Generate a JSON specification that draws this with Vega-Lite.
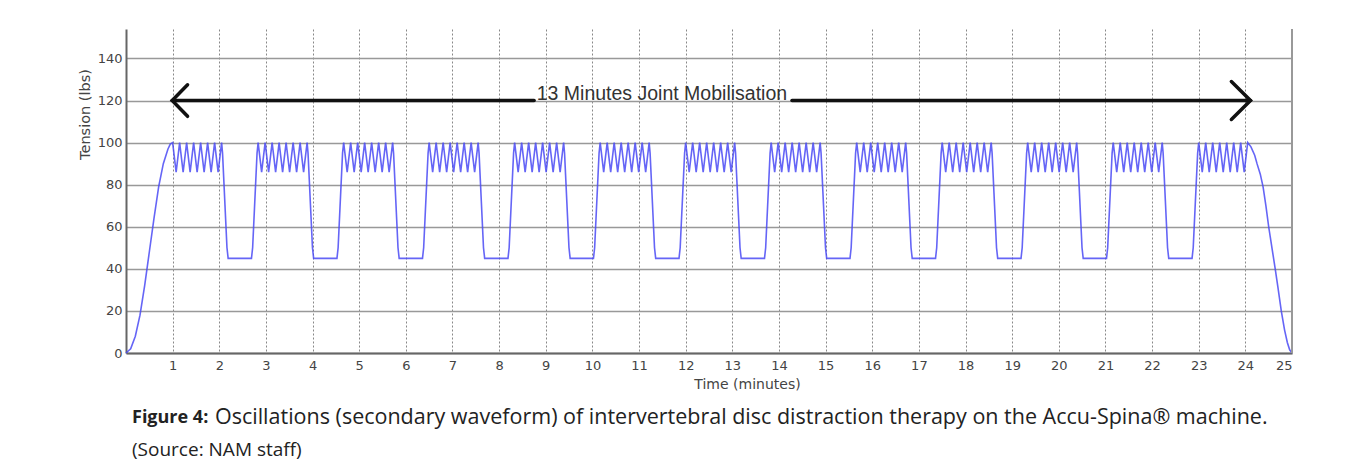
{
  "$schema": "https://vega.github.io/schema/vega-lite/v6.json",
  "padding": {"left": 77, "top": 28, "right": 0, "bottom": 0},
  "background": "white",
  "config": {"view": {"stroke": null}},
  "spacing": 11,
  "vconcat": [
    {
      "width": 1166,
      "height": 324,
      "layer": [
        {
          "data": {"values": [
            {"t":0,"v":0},{"t":0.1,"v":2},{"t":0.2,"v":8},{"t":0.3,"v":18},{"t":0.4,"v":32},{"t":0.5,"v":48},{"t":0.6,"v":64},{"t":0.7,"v":79},{"t":0.8,"v":90},{"t":0.9,"v":97},{"t":0.95,"v":99.3},
            {"t":1,"v":100},{"t":1.075,"v":86},{"t":1.15,"v":100},{"t":1.225,"v":86},{"t":1.3,"v":100},{"t":1.375,"v":86},{"t":1.45,"v":100},{"t":1.525,"v":86},{"t":1.6,"v":100},{"t":1.675,"v":86},{"t":1.75,"v":100},{"t":1.825,"v":86},{"t":1.9,"v":100},{"t":1.975,"v":86},{"t":2.05,"v":100},{"t":2.07,"v":95},{"t":2.165,"v":50},{"t":2.19,"v":45},{"t":2.69,"v":45},{"t":2.715,"v":50},{"t":2.81,"v":95},
            {"t":2.833,"v":100},{"t":2.908,"v":86},{"t":2.983,"v":100},{"t":3.058,"v":86},{"t":3.133,"v":100},{"t":3.208,"v":86},{"t":3.283,"v":100},{"t":3.358,"v":86},{"t":3.433,"v":100},{"t":3.508,"v":86},{"t":3.583,"v":100},{"t":3.658,"v":86},{"t":3.733,"v":100},{"t":3.808,"v":86},{"t":3.883,"v":100},{"t":3.903,"v":95},{"t":3.998,"v":50},{"t":4.023,"v":45},{"t":4.523,"v":45},{"t":4.548,"v":50},{"t":4.643,"v":95},
            {"t":4.667,"v":100},{"t":4.742,"v":86},{"t":4.817,"v":100},{"t":4.892,"v":86},{"t":4.967,"v":100},{"t":5.042,"v":86},{"t":5.117,"v":100},{"t":5.192,"v":86},{"t":5.267,"v":100},{"t":5.342,"v":86},{"t":5.417,"v":100},{"t":5.492,"v":86},{"t":5.567,"v":100},{"t":5.642,"v":86},{"t":5.717,"v":100},{"t":5.737,"v":95},{"t":5.832,"v":50},{"t":5.857,"v":45},{"t":6.357,"v":45},{"t":6.382,"v":50},{"t":6.477,"v":95},
            {"t":6.5,"v":100},{"t":6.575,"v":86},{"t":6.65,"v":100},{"t":6.725,"v":86},{"t":6.8,"v":100},{"t":6.875,"v":86},{"t":6.95,"v":100},{"t":7.025,"v":86},{"t":7.1,"v":100},{"t":7.175,"v":86},{"t":7.25,"v":100},{"t":7.325,"v":86},{"t":7.4,"v":100},{"t":7.475,"v":86},{"t":7.55,"v":100},{"t":7.57,"v":95},{"t":7.665,"v":50},{"t":7.69,"v":45},{"t":8.19,"v":45},{"t":8.215,"v":50},{"t":8.31,"v":95},
            {"t":8.333,"v":100},{"t":8.408,"v":86},{"t":8.483,"v":100},{"t":8.558,"v":86},{"t":8.633,"v":100},{"t":8.708,"v":86},{"t":8.783,"v":100},{"t":8.858,"v":86},{"t":8.933,"v":100},{"t":9.008,"v":86},{"t":9.083,"v":100},{"t":9.158,"v":86},{"t":9.233,"v":100},{"t":9.308,"v":86},{"t":9.383,"v":100},{"t":9.403,"v":95},{"t":9.498,"v":50},{"t":9.523,"v":45},{"t":10.023,"v":45},{"t":10.048,"v":50},{"t":10.143,"v":95},
            {"t":10.167,"v":100},{"t":10.242,"v":86},{"t":10.317,"v":100},{"t":10.392,"v":86},{"t":10.467,"v":100},{"t":10.542,"v":86},{"t":10.617,"v":100},{"t":10.692,"v":86},{"t":10.767,"v":100},{"t":10.842,"v":86},{"t":10.917,"v":100},{"t":10.992,"v":86},{"t":11.067,"v":100},{"t":11.142,"v":86},{"t":11.217,"v":100},{"t":11.237,"v":95},{"t":11.332,"v":50},{"t":11.357,"v":45},{"t":11.857,"v":45},{"t":11.882,"v":50},{"t":11.977,"v":95},
            {"t":12,"v":100},{"t":12.075,"v":86},{"t":12.15,"v":100},{"t":12.225,"v":86},{"t":12.3,"v":100},{"t":12.375,"v":86},{"t":12.45,"v":100},{"t":12.525,"v":86},{"t":12.6,"v":100},{"t":12.675,"v":86},{"t":12.75,"v":100},{"t":12.825,"v":86},{"t":12.9,"v":100},{"t":12.975,"v":86},{"t":13.05,"v":100},{"t":13.07,"v":95},{"t":13.165,"v":50},{"t":13.19,"v":45},{"t":13.69,"v":45},{"t":13.715,"v":50},{"t":13.81,"v":95},
            {"t":13.833,"v":100},{"t":13.908,"v":86},{"t":13.983,"v":100},{"t":14.058,"v":86},{"t":14.133,"v":100},{"t":14.208,"v":86},{"t":14.283,"v":100},{"t":14.358,"v":86},{"t":14.433,"v":100},{"t":14.508,"v":86},{"t":14.583,"v":100},{"t":14.658,"v":86},{"t":14.733,"v":100},{"t":14.808,"v":86},{"t":14.883,"v":100},{"t":14.903,"v":95},{"t":14.998,"v":50},{"t":15.023,"v":45},{"t":15.523,"v":45},{"t":15.548,"v":50},{"t":15.643,"v":95},
            {"t":15.667,"v":100},{"t":15.742,"v":86},{"t":15.817,"v":100},{"t":15.892,"v":86},{"t":15.967,"v":100},{"t":16.042,"v":86},{"t":16.117,"v":100},{"t":16.192,"v":86},{"t":16.267,"v":100},{"t":16.342,"v":86},{"t":16.417,"v":100},{"t":16.492,"v":86},{"t":16.567,"v":100},{"t":16.642,"v":86},{"t":16.717,"v":100},{"t":16.737,"v":95},{"t":16.832,"v":50},{"t":16.857,"v":45},{"t":17.357,"v":45},{"t":17.382,"v":50},{"t":17.477,"v":95},
            {"t":17.5,"v":100},{"t":17.575,"v":86},{"t":17.65,"v":100},{"t":17.725,"v":86},{"t":17.8,"v":100},{"t":17.875,"v":86},{"t":17.95,"v":100},{"t":18.025,"v":86},{"t":18.1,"v":100},{"t":18.175,"v":86},{"t":18.25,"v":100},{"t":18.325,"v":86},{"t":18.4,"v":100},{"t":18.475,"v":86},{"t":18.55,"v":100},{"t":18.57,"v":95},{"t":18.665,"v":50},{"t":18.69,"v":45},{"t":19.19,"v":45},{"t":19.215,"v":50},{"t":19.31,"v":95},
            {"t":19.333,"v":100},{"t":19.408,"v":86},{"t":19.483,"v":100},{"t":19.558,"v":86},{"t":19.633,"v":100},{"t":19.708,"v":86},{"t":19.783,"v":100},{"t":19.858,"v":86},{"t":19.933,"v":100},{"t":20.008,"v":86},{"t":20.083,"v":100},{"t":20.158,"v":86},{"t":20.233,"v":100},{"t":20.308,"v":86},{"t":20.383,"v":100},{"t":20.403,"v":95},{"t":20.498,"v":50},{"t":20.523,"v":45},{"t":21.023,"v":45},{"t":21.048,"v":50},{"t":21.143,"v":95},
            {"t":21.167,"v":100},{"t":21.242,"v":86},{"t":21.317,"v":100},{"t":21.392,"v":86},{"t":21.467,"v":100},{"t":21.542,"v":86},{"t":21.617,"v":100},{"t":21.692,"v":86},{"t":21.767,"v":100},{"t":21.842,"v":86},{"t":21.917,"v":100},{"t":21.992,"v":86},{"t":22.067,"v":100},{"t":22.142,"v":86},{"t":22.217,"v":100},{"t":22.237,"v":95},{"t":22.332,"v":50},{"t":22.357,"v":45},{"t":22.857,"v":45},{"t":22.882,"v":50},{"t":22.977,"v":95},
            {"t":23,"v":100},{"t":23.075,"v":86},{"t":23.15,"v":100},{"t":23.225,"v":86},{"t":23.3,"v":100},{"t":23.375,"v":86},{"t":23.45,"v":100},{"t":23.525,"v":86},{"t":23.6,"v":100},{"t":23.675,"v":86},{"t":23.75,"v":100},{"t":23.825,"v":86},{"t":23.9,"v":100},{"t":23.975,"v":86},{"t":24.05,"v":100},
            {"t":24.12,"v":98},{"t":24.2,"v":94},{"t":24.25,"v":90},{"t":24.32,"v":85},{"t":24.38,"v":79},{"t":24.44,"v":70},{"t":24.5,"v":60},{"t":24.57,"v":50},{"t":24.64,"v":40},{"t":24.7,"v":31},{"t":24.77,"v":20},{"t":24.84,"v":11},{"t":24.9,"v":5},{"t":24.95,"v":1.5},{"t":25,"v":0}
          ]},
          "mark": {"type": "line", "stroke": "#4a4af5", "strokeWidth": 1.6, "opacity": 0.85},
          "encoding": {
            "x": {
              "field": "t", "type": "quantitative",
              "scale": {"domain": [0, 25], "nice": false, "zero": false},
              "axis": {
                "values": [1,2,3,4,5,6,7,8,9,10,11,12,13,14,15,16,17,18,19,20,21,22,23,24,25],
                "title": "Time (minutes)",
                "titleX": 621, "titleY": 31, "titleBaseline": "middle",
                "titleFont": "DejaVu Sans", "titleFontSize": 14, "titleFontWeight": "normal", "titleColor": "#444",
                "labelFont": "DejaVu Sans", "labelFontSize": 13, "labelColor": "#444", "labelPadding": 6,
                "ticks": false,
                "domainColor": "#666", "domainWidth": 2,
                "grid": true, "gridColor": "#888", "gridDash": [2, 2], "gridWidth": 1
              }
            },
            "y": {
              "field": "v", "type": "quantitative",
              "scale": {"domain": [0, 154], "nice": false},
              "axis": {
                "values": [0, 20, 40, 60, 80, 100, 120, 140],
                "title": "Tension (lbs)",
                "titleX": -34, "titleY": 85,
                "titleFont": "DejaVu Sans", "titleFontSize": 14.5, "titleFontWeight": "normal", "titleColor": "#444",
                "labelFont": "DejaVu Sans", "labelFontSize": 13, "labelColor": "#444", "labelPadding": 4,
                "ticks": false,
                "domainColor": "#666", "domainWidth": 2,
                "grid": true, "gridColor": "#999", "gridWidth": 1.5
              }
            }
          }
        },
        {
          "data": {"values": [{"t": 25}]},
          "mark": {"type": "rule", "stroke": "#999", "strokeWidth": 2},
          "encoding": {"x": {"field": "t", "type": "quantitative"}}
        },
        {
          "data": {"values": [
            {"seg": "lineL", "i": 0, "t": 0.99, "v": 120},
            {"seg": "lineL", "i": 1, "t": 8.75, "v": 120},
            {"seg": "lineR", "i": 0, "t": 14.28, "v": 120},
            {"seg": "lineR", "i": 1, "t": 24.11, "v": 120},
            {"seg": "headL", "i": 0, "t": 1.32, "v": 127.5},
            {"seg": "headL", "i": 1, "t": 0.99, "v": 120},
            {"seg": "headL", "i": 2, "t": 1.32, "v": 112.5},
            {"seg": "headR", "i": 0, "t": 23.7, "v": 129},
            {"seg": "headR", "i": 1, "t": 24.11, "v": 120},
            {"seg": "headR", "i": 2, "t": 23.7, "v": 111}
          ]},
          "mark": {"type": "line", "stroke": "#111", "strokeWidth": 3.5, "strokeCap": "round", "strokeJoin": "miter"},
          "encoding": {
            "x": {"field": "t", "type": "quantitative"},
            "y": {"field": "v", "type": "quantitative"},
            "detail": {"field": "seg"},
            "order": {"field": "i", "type": "quantitative"}
          }
        },
        {
          "data": {"values": [{"t": 11.49, "v": 120, "label": "13 Minutes Joint Mobilisation"}]},
          "mark": {"type": "text", "font": "Liberation Sans", "fontSize": 19.5, "fill": "#333", "baseline": "alphabetic", "align": "center", "dy": -1},
          "encoding": {
            "x": {"field": "t", "type": "quantitative"},
            "y": {"field": "v", "type": "quantitative"},
            "text": {"field": "label"}
          }
        }
      ]
    },
    {
      "width": 1166,
      "height": 64,
      "data": {"values": [
        {"line": "1", "bold": "Figure 4:", "text": "Oscillations (secondary waveform) of intervertebral disc distraction therapy on the Accu-Spina® machine."},
        {"line": "2", "bold": "", "text": "(Source: NAM staff)"}
      ]},
      "encoding": {
        "y": {"field": "line", "type": "ordinal", "scale": {"type": "point", "padding": 0.5}, "axis": null},
        "x": {"value": 0}
      },
      "layer": [
        {
          "transform": [{"filter": "datum.line == '1'"}],
          "mark": {"type": "text", "font": "Open Sans", "fontSize": 18, "fontWeight": "bold", "fill": "#222", "align": "left", "baseline": "middle", "dx": 6},
          "encoding": {"text": {"field": "bold"}}
        },
        {
          "transform": [{"filter": "datum.line == '1'"}],
          "mark": {"type": "text", "font": "Open Sans", "fontSize": 21.5, "fill": "#222", "align": "left", "baseline": "middle", "dx": 89},
          "encoding": {"text": {"field": "text"}}
        },
        {
          "transform": [{"filter": "datum.line == '2'"}],
          "mark": {"type": "text", "font": "Open Sans", "fontSize": 19, "fill": "#222", "align": "left", "baseline": "middle", "dx": 6},
          "encoding": {"text": {"field": "text"}}
        }
      ]
    }
  ]
}
